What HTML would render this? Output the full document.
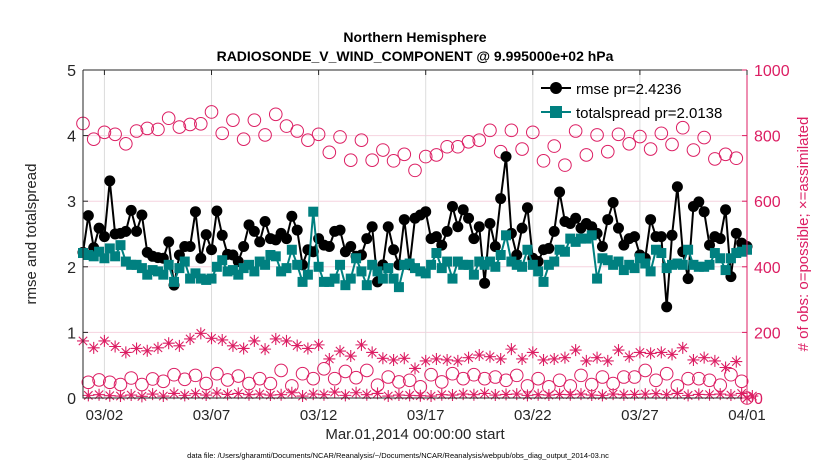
<!DOCTYPE html>
<html><head><meta charset="utf-8"><style>
html,body{margin:0;padding:0;background:#fff;}
svg{display:block;font-family:"Liberation Sans",sans-serif;}
</style></head><body>
<svg id="chart" width="830" height="470" viewBox="0 0 830 470" xmlns="http://www.w3.org/2000/svg">
<rect width="830" height="470" fill="#fff"/>
<g id="grid"></g>
<g id="series"></g>
<g id="axes"></g>
</svg>
<script>
// ---- data (times in days since Mar 1 00Z) ----
const xTickLabels = ["03/02","03/07","03/12","03/17","03/22","03/27","04/01"];
const xTickDays = [1,6,11,16,21,26,31];
const yLeftTicks = [0,1,2,3,4,5];
const yRightTicks = [0,200,400,600,800,1000];
const rmse = [2.22,2.78,2.29,2.59,2.46,3.31,2.50,2.51,2.54,2.86,2.54,2.79,2.22,2.16,2.14,2.13,2.38,1.72,2.18,2.31,2.31,2.84,2.13,2.49,2.26,2.85,2.48,2.19,2.18,2.08,2.31,2.64,
2.54,2.38,2.69,2.43,2.41,2.51,2.43,2.77,2.56,2.03,2.26,2.23,2.43,2.33,2.31,2.54,2.56,2.23,2.31,2.16,2.18,2.43,2.61,1.77,2.03,2.61,2.26,2.03,2.72,2.03,2.74,
2.79,2.84,2.43,2.46,2.33,2.54,2.92,2.61,2.87,2.74,2.43,2.61,1.75,2.66,2.31,3.04,3.68,2.51,2.18,2.59,2.90,2.13,2.08,2.26,2.28,2.54,3.14,2.69,2.66,2.74,2.59,
2.66,2.61,2.51,2.31,2.72,2.98,2.59,2.33,2.43,2.46,2.18,2.13,2.72,2.46,2.46,1.39,2.48,3.22,2.23,1.82,2.92,2.99,2.84,2.33,2.46,2.43,2.87,1.85,2.51,2.36,2.31];
const spread = [2.21,2.18,2.16,2.23,2.13,2.28,2.16,2.33,2.08,2.03,2.03,1.98,1.88,1.95,1.93,1.88,2.03,1.77,1.98,2.08,1.82,1.90,1.82,1.80,1.82,2.00,2.10,1.93,1.95,1.88,1.98,2.03,
1.93,2.08,2.03,2.18,2.16,1.93,1.98,2.26,2.03,1.77,1.88,2.84,2.00,1.77,1.77,1.82,2.03,1.72,1.82,2.13,1.93,1.72,2.03,1.93,1.82,1.98,1.82,1.69,2.03,2.05,1.98,
1.93,1.90,2.03,2.21,1.98,2.08,1.82,2.08,2.03,2.03,1.88,2.08,2.03,2.08,2.00,2.18,2.48,2.08,2.03,2.00,2.26,2.03,1.93,1.77,2.03,2.08,2.26,2.23,2.43,2.38,2.43,
2.43,2.48,1.82,2.13,2.10,2.03,2.08,1.95,2.03,1.98,2.13,2.05,1.93,2.26,2.21,1.98,2.03,2.05,2.03,2.26,2.03,2.00,2.00,2.03,2.21,2.13,1.95,2.13,2.21,2.23,2.26];
// 00Z/12Z counts (t = 0, 0.5, ... 31)
const possibleA = [837,789,810,804,775,814,822,819,853,826,834,836,872,807,847,789,
847,802,865,829,814,786,804,749,796,725,786,725,756,723,743,694,
736,741,766,766,781,786,816,751,816,759,810,723,768,710,814,741,
802,751,804,775,797,759,807,773,824,756,794,729,743,731,0];
const usedA = [174,153,174,157,139,151,144,153,167,159,180,197,182,177,159,151,
174,149,180,174,160,151,162,119,143,128,162,139,121,116,121,90,
113,119,116,113,123,131,126,119,149,119,139,116,119,123,146,113,
123,113,146,126,139,136,139,133,153,116,123,113,93,111,0];
// 06Z/18Z counts (t = 0.25, 0.75, ... 30.75)
const possibleB = [48,55,48,41,61,41,58,51,71,57,69,44,74,55,67,
44,59,44,84,37,74,59,89,59,81,62,84,39,64,49,54,34,
71,49,74,59,71,59,64,54,69,37,59,34,54,37,69,
41,64,44,64,64,84,54,74,37,59,59,54,39,71,51];
const usedB = [8,10,7,6,9,5,12,6,14,8,13,9,15,11,14,10,
12,9,10,16,6,12,10,18,8,16,10,14,6,9,8,7,
6,10,9,12,10,14,9,11,12,8,10,9,11,10,12,9,
8,12,10,11,12,13,10,14,8,11,10,12,9,14,6];

const NS = "http://www.w3.org/2000/svg";
const X0 = 83, X1 = 747, Y0 = 398, Y1 = 70;
const xS = d => X0 + (d / 31) * (X1 - X0);
const yL = v => Y0 - (v / 5) * (Y0 - Y1);
const yR = v => Y0 - (v / 1000) * (Y0 - Y1);
const PINK = "#dc1e63", TEAL = "#008080";
function mk(tag, attrs, parent) {
  const e = document.createElementNS(NS, tag);
  for (const k in attrs) e.setAttribute(k, attrs[k]);
  parent.appendChild(e);
  return e;
}
const grid = document.getElementById("grid");
const series = document.getElementById("series");
const axes = document.getElementById("axes");

// grid
yRightTicks.forEach(v => {
  const l = mk("line", {x1: X0, x2: X1, y1: yR(v), y2: yR(v), stroke: "#f6d3df", "stroke-width": 1}, grid);
  
  
});
xTickDays.forEach(d => {
  const l = mk("line", {x1: xS(d), x2: xS(d), y1: Y1, y2: Y0, stroke: "#dcdcdc", "stroke-width": 1}, grid);
  
  
});

// obs count series
function circles(arr, t0, name) {
  const g = mk("g", {}, series);
  
  
  arr.forEach((v, i) => {
    const c = mk("circle", {cx: xS(t0 + i * 0.5), cy: yR(v), r: 6.3, fill: "none", stroke: PINK, "stroke-width": 1}, g);
    
    
  });
}
function stars(arr, t0, name) {
  const g = mk("g", {}, series);
  
  
  arr.forEach((v, i) => {
    const x = xS(t0 + i * 0.5), y = yR(v), s = 6;
    let d = `M${x-s},${y}H${x+s}M${x},${y-s}V${y+s}M${x-s*0.7},${y-s*0.7}L${x+s*0.7},${y+s*0.7}M${x-s*0.7},${y+s*0.7}L${x+s*0.7},${y-s*0.7}`;
    const p = mk("path", {d: d, stroke: PINK, "stroke-width": 1.1, fill: "none"}, g);
    
    
  });
}
circles(possibleA, 0, "possible-obs-00z12z");
circles(possibleB, 0.25, "possible-obs-06z18z");
stars(usedA, 0, "assimilated-obs-00z12z");
stars(usedB, 0.25, "assimilated-obs-06z18z");

// rmse
const gR = mk("g", {}, series);


const rl = mk("polyline", {points: rmse.map((v, i) => xS(i * 0.25) + "," + yL(v)).join(" "), fill: "none", stroke: "#000", "stroke-width": 2}, gR);


rmse.forEach((v, i) => {
  const c = mk("circle", {cx: xS(i * 0.25), cy: yL(v), r: 5.5, fill: "#000"}, gR);
  
  
});
// spread
const gS = mk("g", {}, series);


const sl = mk("polyline", {points: spread.map((v, i) => xS(i * 0.25) + "," + yL(v)).join(" "), fill: "none", stroke: TEAL, "stroke-width": 2}, gS);


spread.forEach((v, i) => {
  const r = mk("rect", {x: xS(i * 0.25) - 5, y: yL(v) - 5, width: 10, height: 10, fill: TEAL}, gS);
  
  
});

// axes frame
const fr = mk("path", {d: `M${X0},${Y1}H${X1}M${X0},${Y1}V${Y0}H${X1}`, stroke: "#262626", fill: "none", "stroke-width": 1}, axes);


const ra = mk("line", {x1: X1, x2: X1, y1: Y1, y2: Y0, stroke: PINK, "stroke-width": 1}, axes);


yLeftTicks.forEach(v => {
  mk("line", {x1: X0, x2: X0 + 5, y1: yL(v), y2: yL(v), stroke: "#262626"}, axes);
  const t = mk("text", {x: X0 - 7, y: yL(v) + 6, "text-anchor": "end", "font-size": 16, fill: "#262626"}, axes);
  t.textContent = v;
  
  
});
yRightTicks.forEach(v => {
  mk("line", {x1: X1 - 5, x2: X1, y1: yR(v), y2: yR(v), stroke: PINK}, axes);
  const t = mk("text", {x: X1 + 7, y: yR(v) + 6, "text-anchor": "start", "font-size": 16, fill: PINK}, axes);
  t.textContent = v;
  
  
});
xTickDays.forEach((d, i) => {
  mk("line", {x1: xS(d), x2: xS(d), y1: Y1, y2: Y1 + 5, stroke: "#262626"}, axes);
  const t = mk("text", {x: xS(d), y: 420, "text-anchor": "middle", "font-size": 15, fill: "#262626"}, axes);
  t.textContent = xTickLabels[i];
  
  
});
</script>
<svg style="position:absolute;left:0;top:0" width="830" height="470">
<text x="415" y="42" text-anchor="middle" font-size="14" font-weight="bold" fill="#000" font-family="Liberation Sans, sans-serif">Northern Hemisphere</text>
<text x="415" y="61" text-anchor="middle" font-size="14" font-weight="bold" fill="#000" font-family="Liberation Sans, sans-serif">RADIOSONDE_V_WIND_COMPONENT @ 9.995000e+02 hPa</text>
<text transform="translate(36,234) rotate(-90)" text-anchor="middle" font-size="15" fill="#262626" font-family="Liberation Sans, sans-serif">rmse and totalspread</text>
<text transform="translate(808,234) rotate(-90)" text-anchor="middle" font-size="15" fill="#dc1e63" font-family="Liberation Sans, sans-serif"># of obs: o=possible; ×=assimilated</text>
<text x="415" y="439" text-anchor="middle" font-size="15" fill="#262626" font-family="Liberation Sans, sans-serif">Mar.01,2014 00:00:00 start</text>
<text x="398" y="458" text-anchor="middle" font-size="7.5" fill="#000" font-family="Liberation Sans, sans-serif">data file: /Users/gharamti/Documents/NCAR/Reanalysis/~/Documents/NCAR/Reanalysis/webpub/obs_diag_output_2014-03.nc</text>
<g>
<line x1="541" x2="571" y1="88" y2="88" stroke="#000" stroke-width="2"/>
<circle cx="556" cy="88" r="6" fill="#000"/>
<text x="576" y="94" font-size="15" fill="#000" font-family="Liberation Sans, sans-serif">rmse pr=2.4236</text>
<line x1="541" x2="571" y1="112" y2="112" stroke="#008080" stroke-width="2"/>
<rect x="550" y="106" width="12" height="12" fill="#008080"/>
<text x="576" y="118" font-size="15" fill="#000" font-family="Liberation Sans, sans-serif">totalspread pr=2.0138</text>
</g>
</svg>
</body></html>
